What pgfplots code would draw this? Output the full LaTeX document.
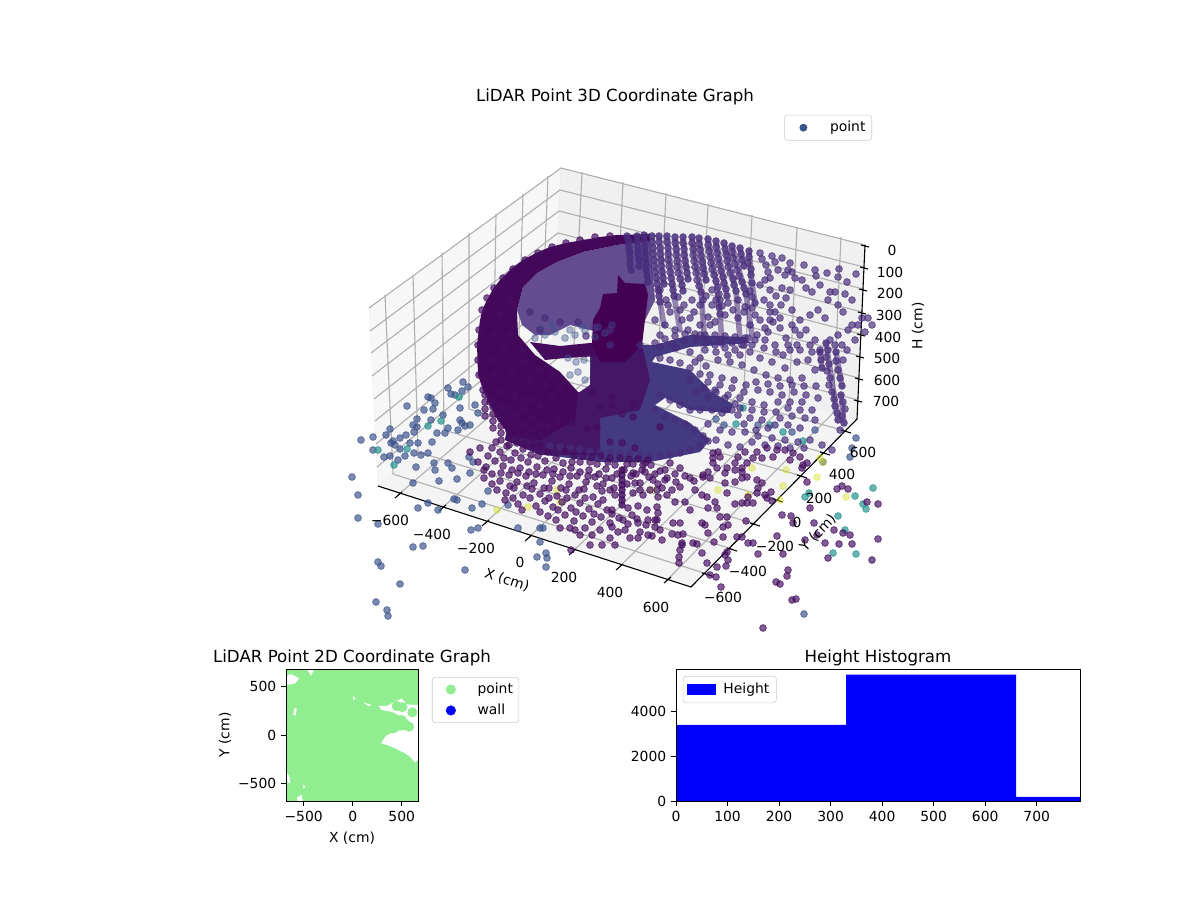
\documentclass[border=0pt]{standalone}
\usepackage{fontspec}
\setmainfont{DejaVu Sans}
\usepackage{pgfplots}
\pgfplotsset{compat=1.18}
\definecolor{vP}{HTML}{440154}
\definecolor{vI}{HTML}{472D7B}
\definecolor{vB}{HTML}{3B528B}
\definecolor{vT}{HTML}{21918C}
\definecolor{vY}{HTML}{D5E21A}
\definecolor{LightGreenX}{HTML}{90EE90}
\pgfplotsset{
  pts/.style={only marks,mark=*,mark size=2.45pt,mark options={fill=#1,draw=#1,fill opacity=.68,draw opacity=.78,line width=.5pt}},
  ptl/.style={only marks,mark=*,mark size=2.45pt,mark options={fill=#1,draw=#1,fill opacity=.4,draw opacity=.5,line width=.5pt}},
  leg/.style={legend style={draw=black!20,rounded corners=2pt,fill=white,font=\fontsize{10}{12}\selectfont,inner sep=2pt,row sep=2pt},legend cell align=left,
    legend image code/.code={\path (0pt,-3pt) (28pt,3pt);\draw[##1] plot coordinates {(11pt,0pt)};}},
  tick style={black,line width=.7pt},
  tick label style={font=\fontsize{10}{12}\selectfont},
  label style={font=\fontsize{10}{12}\selectfont},
}
\begin{document}
\begin{tikzpicture}
\path[use as bounding box] (0pt,0pt) rectangle (864pt,648pt);
\begin{axis}[at={(252.72pt,191.52pt)},anchor=south west,scale only axis,width=379.44pt,height=378.72pt,
 xmin=351,xmax=878,ymin=108,ymax=634,y dir=reverse,axis lines=none,unbounded coords=jump,
 leg,legend style={at={(0.9886,0.987)},anchor=north east,legend columns=1,inner sep=2.5pt}]
% panes
\addplot[fill=black!3,draw=black!6,forget plot] coordinates {(369,308)(561,168)(553,338)(378,486)(369,308)};
\addplot[fill=black!6,draw=black!8,forget plot] coordinates {(561,168)(865,245)(857,419)(553,338)(561,168)};
\addplot[fill=black!4.5,draw=none,forget plot] coordinates {(378,486)(553,338)(857,419)(691,587)(378,486)};
% grid
\addplot[color=black!31,line width=.8pt,forget plot] coordinates {
(385,295)(393,474)(nan,nan)(413,275)(418,452)(nan,nan)(442,253)(444,430)(nan,nan)(469,233)(469,409)(nan,nan)(496,214)(493,388)(nan,nan)(523,194)(518,368)(nan,nan)(548,176)(541,348)(nan,nan)
(582,172)(574,344)(nan,nan)(623,182)(615,355)(nan,nan)(666,193)(658,366)(nan,nan)(708,204)(700,377)(nan,nan)(752,215)(744,389)(nan,nan)(797,227)(789,401)(nan,nan)(841,237)(833,413)(nan,nan)
(398,495)(574,344)(nan,nan)(442,508)(615,355)(nan,nan)(485,523)(658,366)(nan,nan)(528,538)(700,377)(nan,nan)(572,552)(744,389)(nan,nan)(619,567)(789,401)(nan,nan)(667,580)(833,413)(nan,nan)
(707,574)(393,474)(nan,nan)(732,549)(418,452)(nan,nan)(755,524)(444,430)(nan,nan)(778,500)(469,409)(nan,nan)(802,476)(493,388)(nan,nan)(825,453)(518,368)(nan,nan)(846,431)(541,348)(nan,nan)
(369,308)(561,168)(865,245)(nan,nan)(370,331)(560,190)(864,267)(nan,nan)(371,353)(559,211)(863,289)(nan,nan)(372,376)(558,233)(862,312)(nan,nan)(374,399)(557,255)(861,334)(nan,nan)(375,421)(556,276)(860,356)(nan,nan)(376,444)(555,298)(859,378)(nan,nan)(377,467)(554,320)(858,400)};
% axes and ticks
\addplot[black,line width=.8pt,forget plot] coordinates {(378,486)(691,587)(857,419)(865,245)(nan,nan)
(395,498)(402,492)(nan,nan)(439,511)(446,505)(nan,nan)(482,526)(489,520)(nan,nan)(525,541)(532,535)(nan,nan)(569,555)(576,549)(nan,nan)(616,570)(623,564)(nan,nan)(664,583)(671,577)(nan,nan)
(702,573)(712,576)(nan,nan)(727,548)(737,551)(nan,nan)(750,523)(760,526)(nan,nan)(773,499)(783,502)(nan,nan)(797,475)(807,478)(nan,nan)(820,452)(830,455)(nan,nan)(841,430)(851,433)(nan,nan)
(861,245)(869,247)(nan,nan)(860,267)(868,269)(nan,nan)(859,289)(867,291)(nan,nan)(858,312)(866,314)(nan,nan)(857,334)(865,336)(nan,nan)(856,356)(864,358)(nan,nan)(855,378)(863,380)(nan,nan)(854,400)(862,402)};
\addlegendimage{only marks,mark=*,mark size=2.6pt,color=vB}
\addlegendentry{point}
% blue and light floor points
\addplot[pts=vB,forget plot] table {
361 440
373 437
386 435
390 429
373 450
384 457
390 456
393 441
391 443
406 435
414 432
417 427
395 445
400 438
410 443
400 449
398 460
414 453
405 456
418 443
432 442
421 455
428 453
413 483
439 481
457 479
470 473
416 467
434 463
435 470
448 463
452 468
469 457
473 462
428 397
431 398
455 395
451 394
435 403
424 410
407 406
433 409
443 415
417 419
431 420
413 425
460 420
448 428
437 433
445 433
458 430
462 423
465 426
470 425
478 413
475 405
460 408
448 388
462 391
463 382
468 387
352 477
358 495
358 518
378 524
413 547
423 546
378 562
381 566
465 570
400 584
376 602
387 610
388 616
380 636
471 530
478 528
537 557
546 553
547 558
546 567
518 528
540 528
543 528
540 542
428 503
418 508
438 510
454 499
457 500
472 508
482 504
488 491
508 505
804 614
716 419
724 425
758 425
792 432
815 430
852 448
850 457
856 438
823 462
};
\addplot[pts=vT,forget plot] table {
378 450
428 426
441 421
459 397
394 465
407 449
743 408
736 424
805 497
809 493
855 496
873 488
863 504
866 509
838 516
856 554
833 553
845 530
770 425
783 432
803 441
};
\addplot[ptl=vY,forget plot] table {
497 510
528 507
557 490
560 502
817 477
783 486
780 500
846 497
823 462
820 458
786 470
752 468
748 495
718 490
652 490
};
% dense masses
\addplot[fill=vI!85!white,draw=none,forget plot] coordinates {(517,310)(523,287)(537,273)(557,262)(583,252)(617,245)(650,241)(655,300)(640,330)(590,330)(570,325)(550,335)(535,335)(522,325)};
\addplot[fill=vB!35!vI,draw=none,forget plot] coordinates {(590,355)(642,345)(655,345)(690,335)(745,337)(750,343)(690,347)(655,357)(652,362)(690,370)(713,393)(733,404)(730,413)(690,410)(665,398)(655,405)(690,423)(710,440)(700,452)(650,462)(600,462)(545,455)(520,440)(560,410)(575,395)(590,385)};
\addplot[fill=vP!50!vI,draw=none,forget plot] coordinates {(510,410)(578,392)(600,400)(600,455)(540,455)(505,440)};
\addplot[fill=vP!55!vI,draw=none,forget plot] coordinates {(592,345)(642,345)(650,380)(640,410)(590,420)(570,400)(590,385)};
\addplot[fill=vP!75!vI,draw=none,forget plot] coordinates {(530,342)(560,346)(600,342)(600,356)(565,358)(545,360)};
\addplot[fill=vP!85!vI,draw=none,forget plot] coordinates {(480,320)(483,308)(487,300)(493,289)(500,280)(511,269)(523,260)(536,253)(550,247)(566,243)(583,240)(600,237)(617,235)(650,234)(650,241)(617,245)(583,252)(557,262)(537,273)(523,287)(517,310)(518,335)(535,355)(560,372)(578,392)(575,420)(540,440)(510,436)(498,420)(490,405)(483,390)(478,375)(477,345)};
\addplot[fill=vP,draw=none,forget plot] coordinates {(618,275)(625,283)(645,284)(648,295)(645,320)(642,345)(625,362)(600,362)(592,345)(593,320)(600,308)(603,294)(617,293)};
% lilac points in the gaps of the wall
\addplot[ptl=vB,forget plot] table {
535 338
545 335
555 332
565 338
575 335
585 331
595 337
605 333
540 328
552 325
570 330
582 326
598 327
612 325
568 358
576 362
584 360
578 372
570 375
585 380
};
% column traces
\addplot[vI,line width=4pt,opacity=.55,line cap=round,forget plot] coordinates {
(627,236)(631,270)(nan,nan)(637,236)(639,266)(nan,nan)(644,235)(648,282)(nan,nan)(652,236)(660,302)(664,325)(nan,nan)(659,236)(664,284)(nan,nan)(667,236)(674,296)(680,330)(nan,nan)(675,237)(683,291)(nan,nan)(683,237)(688,279)(nan,nan)(692,237)(701,292)(705,345)(nan,nan)(699,238)(706,280)(nan,nan)(708,239)(716,281)(720,314)(722,345)(nan,nan)(716,241)(727,296)(nan,nan)(724,243)(736,291)(740,340)(nan,nan)(732,246)(746,294)(752,335)(nan,nan)(740,248)(744,266)(nan,nan)(749,251)(752,283)(755,303)(nan,nan)
(826,343)(838,420)(nan,nan)(841,395)(844,423)(nan,nan)(820,352)(822,368)(nan,nan)(836,352)(842,386)(nan,nan)(622,470)(622,505)};
% indigo: wall columns, arms, right side
\addplot[pts=vI,forget plot] table {
627 236
629 241
629 247
630 252
630 258
630 264
631 270
637 236
637 242
638 248
638 254
639 260
639 266
644 235
644 241
645 246
645 252
645 258
646 264
646 270
647 276
648 282
652 236
652 242
653 248
653 254
654 260
654 266
655 272
656 278
657 284
658 290
659 296
660 302
659 236
659 242
660 248
660 254
661 260
661 266
662 272
663 278
664 284
667 236
667 242
668 248
668 254
668 260
669 266
670 272
671 278
672 284
673 290
674 296
675 237
675 243
676 249
676 255
677 261
677 267
678 273
680 279
682 285
683 291
683 237
683 243
684 249
684 255
685 261
686 267
687 273
688 279
692 237
692 243
693 249
693 255
694 261
695 267
696 273
697 280
699 286
701 292
699 238
699 244
700 250
701 256
702 262
703 268
704 274
706 280
708 239
708 245
709 251
710 257
711 263
712 269
714 275
716 281
718 287
719 294
720 300
719 307
720 314
716 241
716 247
717 253
718 259
719 265
721 271
723 277
724 283
726 289
727 296
724 243
725 249
726 255
727 261
728 267
730 273
733 279
734 285
736 291
732 246
732 252
733 258
735 264
737 270
739 276
742 282
744 288
746 294
740 248
741 254
742 260
744 266
749 251
749 257
748 263
751 269
751 275
752 283
750 291
752 297
755 303
760 253
762 259
766 265
768 272
765 280
772 256
775 262
782 258
790 263
788 270
792 272
778 270
770 278
785 275
795 278
804 265
815 270
816 276
827 273
839 269
838 277
856 274
847 282
802 280
806 288
812 292
820 285
830 292
828 300
835 292
838 305
845 294
852 300
843 312
790 290
786 298
781 305
775 312
770 320
765 328
780 318
792 310
800 320
795 330
810 315
818 310
825 318
806 330
815 340
820 350
835 345
830 340
838 335
842 345
848 330
852 325
858 325
862 318
868 318
872 325
865 332
855 340
847 350
843 360
703 300
712 305
722 306
708 317
715 322
725 315
733 310
738 318
745 307
755 315
750 325
760 320
770 312
773 322
768 332
780 328
786 338
792 325
800 335
810 345
797 345
790 350
783 355
775 345
765 340
757 335
748 338
742 345
735 350
725 348
715 345
705 350
750 352
760 358
772 362
785 368
797 362
808 360
815 370
802 378
790 380
778 378
766 375
754 370
742 365
730 362
718 360
706 366
695 362
710 375
722 378
734 380
746 385
758 390
770 392
782 395
794 392
806 395
818 398
812 410
800 410
788 408
776 412
764 405
752 402
740 398
728 395
716 392
704 388
725 410
738 415
750 418
762 420
775 425
788 425
800 428
745 432
758 436
772 438
785 440
798 442
810 440
822 445
832 450
826 343
828 350
826 357
829 364
827 371
830 378
829 385
832 392
834 399
835 406
837 413
838 420
841 395
843 402
845 409
842 416
844 423
840 430
820 352
821 360
822 368
836 352
836 361
838 370
840 378
842 386
530 312
545 318
560 322
578 322
586 336
595 328
610 330
610 345
540 330
655 320
668 305
680 310
690 318
700 325
665 325
675 330
688 330
700 335
640 345
655 343
665 339
675 336
685 334
695 334
705 335
715 335
725 336
735 337
745 338
755 340
660 347
672 344
684 341
696 340
708 341
720 342
732 343
744 345
660 395
670 400
680 405
690 410
700 410
712 410
722 413
732 410
735 404
725 398
715 390
708 382
700 374
690 368
680 363
670 360
660 358
655 410
665 416
675 420
685 424
695 430
703 436
708 441
700 446
690 450
680 453
670 455
660 456
650 456
640 455
630 454
620 453
610 452
600 452
590 451
580 449
570 448
560 447
550 446
660 290
666 300
670 312
678 297
684 305
692 300
700 305
706 296
712 290
682 320
694 312
710 325
728 303
738 300
744 312
752 308
764 300
770 305
776 296
782 288
770 290
760 285
716 300
660 335
676 348
690 352
700 358
716 352
728 355
740 355
752 345
764 348
776 352
788 345
800 350
812 352
690 380
696 392
708 398
720 385
732 388
744 392
756 382
768 384
780 386
792 385
804 386
816 386
740 408
752 410
764 412
778 402
790 402
802 402
815 420
805 418
792 416
780 418
768 428
756 430
744 424
732 432
720 430
708 424
752 442
765 445
778 446
790 448
804 448
716 440
728 445
740 447
};
\addplot[pts=vP!70!vI,forget plot] table {
482 310
487 298
494 288
503 278
513 269
525 260
538 253
552 247
566 243
580 240
595 237
610 236
479 330
478 345
478 360
479 375
483 390
490 402
498 415
485 395
485 402
485 409
485 416
493 400
493 407
493 414
493 421
493 428
501 405
501 412
501 419
501 426
501 433
501 440
509 410
509 417
509 424
509 431
509 438
509 445
517 415
517 422
517 429
517 436
517 443
525 400
525 410
525 425
525 435
525 445
533 430
533 438
533 446
541 425
541 435
541 445
492 448
500 452
507 446
515 453
523 449
531 455
539 447
548 452
556 458
565 451
574 456
583 456
592 457
601 456
610 458
620 458
629 459
638 459
648 460
478 462
486 467
495 461
503 466
511 460
520 468
528 462
537 467
545 461
554 469
563 463
571 468
580 462
589 470
597 464
606 469
615 465
624 470
633 464
642 470
651 465
660 471
670 463
680 468
484 478
492 474
500 481
509 475
517 482
526 476
534 483
543 475
552 481
560 477
569 484
577 476
586 482
595 477
603 484
612 478
631 476
640 483
649 477
658 484
667 478
676 482
685 476
694 481
703 475
497 490
506 493
514 488
523 495
532 489
540 494
549 488
557 496
566 490
575 495
584 489
593 497
602 491
518 504
536 506
545 501
553 507
562 502
571 508
580 503
589 509
598 504
607 510
548 516
556 520
565 515
574 521
583 516
592 522
601 517
610 523
619 518
628 524
637 519
646 525
655 520
575 530
585 528
592 535
600 530
610 538
618 532
630 538
640 532
652 536
662 540
672 534
682 545
470 452
480 448
488 456
496 442
504 458
512 470
521 458
529 472
538 456
547 470
563 472
572 462
580 472
590 462
599 474
608 462
617 474
627 464
636 474
645 463
655 474
665 470
675 474
484 470
492 484
501 473
510 486
518 473
527 486
536 474
544 488
553 474
561 488
570 476
579 490
588 476
597 486
606 478
614 488
627 484
640 490
650 490
662 488
672 490
505 500
513 498
522 510
530 498
540 512
549 498
558 510
567 498
576 512
585 498
594 514
603 500
612 514
628 508
638 506
647 510
560 528
570 528
580 535
590 545
602 545
615 545
625 530
638 538
648 535
713 453
713 458
718 452
720 457
713 463
738 457
745 452
735 463
757 452
767 448
777 450
785 450
793 453
790 460
800 457
803 465
802 468
807 463
773 457
762 458
753 458
747 463
742 468
735 470
727 468
725 473
717 468
708 472
703 477
710 478
725 483
735 482
742 478
747 477
742 472
727 493
735 504
742 503
747 503
753 503
748 497
757 493
765 495
771 492
772 501
767 498
758 488
762 483
757 480
707 497
702 495
715 502
717 508
708 508
727 517
720 517
723 527
728 525
702 523
705 525
708 533
723 537
714 542
693 543
697 544
682 543
678 535
683 534
680 550
679 557
679 563
702 553
727 552
707 563
717 567
726 566
728 560
710 575
716 577
721 587
725 555
622 470
622 475
622 480
622 485
622 490
622 495
622 500
622 505
633 473
635 483
633 493
643 465
645 472
653 480
657 490
657 507
658 513
657 520
655 527
660 530
632 515
638 523
648 520
675 502
667 495
680 487
673 523
680 523
685 502
690 510
695 490
690 478
665 480
658 497
643 495
623 520
612 527
610 490
615 495
612 510
746 521
737 537
742 537
748 543
753 543
758 554
783 554
788 570
787 576
776 582
780 584
792 600
796 599
763 628
782 515
791 516
793 523
814 523
834 530
843 533
850 535
777 536
805 540
817 535
825 543
839 544
852 544
828 558
872 560
878 539
810 508
837 489
842 486
848 489
867 502
878 504
807 482
571 550
593 393
612 397
633 405
622 414
633 417
600 407
612 405
660 427
597 427
587 429
572 423
610 442
622 443
635 448
558 420
548 427
533 418
530 400
540 405
552 395
560 388
545 385
530 380
515 395
505 410
500 392
512 372
525 362
540 370
552 375
495 375
490 360
505 350
522 350
510 335
495 335
500 315
510 300
};
\end{axis}
\begin{axis}[at={(205.92pt,71.28pt)},anchor=south west,scale only axis,width=95.04pt,height=95.04pt,
 xmin=-680,xmax=666,ymin=-677,ymax=677,axis line style={line width=.65pt},xtick={-500,0,500},ytick={-500,0,500},
 xticklabels={−500,0,500},yticklabels={−500,0,500},xtick pos=lower,ytick pos=left,tick align=outside,major tick length=3.5pt,
 xlabel={X (cm)},ylabel={Y (cm)},xlabel style={yshift=-1pt},ylabel style={yshift=-2pt},
 leg,legend style={at={(1.106,0.939)},anchor=north west,inner sep=2.2pt},axis on top]
\addplot[fill=LightGreenX,draw=none,forget plot] coordinates {(-680,-677)(666,-677)(666,677)(-680,677)};
\addplot[fill=white,draw=none,forget plot] coordinates {(-680,597)(-639,624)(-588,607)(-547,580)(-588,529)(-639,518)(-680,518)};
\addplot[fill=white,draw=none,forget plot] coordinates {(-469,680)(-391,680)(-425,607)};
\addplot[fill=white,draw=none,forget plot] coordinates {(-595,273)(-571,273)(-581,198)(-605,211)};
\addplot[fill=white,draw=none,forget plot] coordinates {(0,402)(31,375)(7,358)};
\addplot[fill=white,draw=none,forget plot] coordinates {(109,334)(194,307)(160,297)};
\addplot[fill=white,draw=none,forget plot] coordinates {(262,300)(347,297)(415,334)(500,375)(551,314)(670,307)(670,-256)(636,-280)(585,-222)(534,-188)(432,-136)(364,-109)(289,-82)(347,0)(432,41)(534,51)(551,119)(500,188)(398,239)(296,256)};
\addplot[fill=white,draw=none,forget plot] coordinates {(-680,-368)(-646,-426)(-636,-494)(-680,-477)};
\addplot[fill=white,draw=none,forget plot] coordinates {(-513,-511)(-479,-528)(-500,-552)};
\addplot[fill=white,draw=none,forget plot] coordinates {(-568,-641)(-520,-614)(-510,-677)(-561,-677)};
\addplot[only marks,mark=*,mark size=3.4pt,color=LightGreenX,forget plot] coordinates {(449,297)(507,286)(609,232)(575,85)(500,153)(466,119)(527,119)(415,68)(347,51)};
\addlegendimage{only marks,mark=*,mark size=3.4pt,color=LightGreenX}
\addlegendentry{point}
\addlegendimage{only marks,mark=*,mark size=3.4pt,color=blue}
\addlegendentry{wall}
\end{axis}
\begin{axis}[at={(486.72pt,71.28pt)},anchor=south west,scale only axis,width=290.88pt,height=95.04pt,
 xmin=0,xmax=784,ymin=0,ymax=5870,axis line style={line width=.65pt},xtick={0,100,...,700},ytick={0,2000,4000},
 xtick pos=lower,ytick pos=left,tick align=outside,major tick length=3.5pt,scaled ticks=false,
 /pgf/number format/assume math mode=true,/pgf/number format/set thousands separator={},
 leg,legend style={at={(0.017,0.947)},anchor=north west,inner sep=3pt},
 legend image code/.code={\path (0pt,-4pt) (24pt,4pt);\path[fill=blue,sharp corners] (0pt,-4pt) rectangle (21pt,4pt);},axis on top]
\addplot[ybar interval,fill=blue,draw=none] coordinates {(0,3380)(330,5620)(660,180)(990,180)};
\addlegendentry{Height}
\end{axis}
\begin{scope}[x=0.72pt,y=-0.72pt,shift={(0pt,648pt)},every node/.style={font=\fontsize{10}{12}\selectfont,inner sep=0pt}]
\node[font=\fontsize{12}{14}\selectfont] at (615,97) {LiDAR Point 3D Coordinate Graph};
\node[font=\fontsize{12}{14}\selectfont] at (352,658) {LiDAR Point 2D Coordinate Graph};
\node[font=\fontsize{12}{14}\selectfont] at (878,658) {Height Histogram};
\node at (390,520) {−600};
\node at (432,534) {−400};
\node at (476,548) {−200};
\node at (520,562) {0};
\node at (564,577) {200};
\node at (610,592) {400};
\node at (656,607) {600};
\node[rotate=-18] at (507,580) {X (cm)};
\node at (723,597) {−600};
\node at (748,571) {−400};
\node at (775,546) {−200};
\node at (797,522) {0};
\node at (819,498) {200};
\node at (842,474) {400};
\node at (863,452) {600};
\node[rotate=46] at (818,533) {Y (cm)};
\node at (892,250) {0};
\node at (890,272) {100};
\node at (890,293) {200};
\node at (889,315) {300};
\node at (888,337) {400};
\node at (887,358) {500};
\node at (887,380) {600};
\node at (886,401) {700};
\node[rotate=90] at (918,326) {H (cm)};
\end{scope}
\end{tikzpicture}
\end{document}
